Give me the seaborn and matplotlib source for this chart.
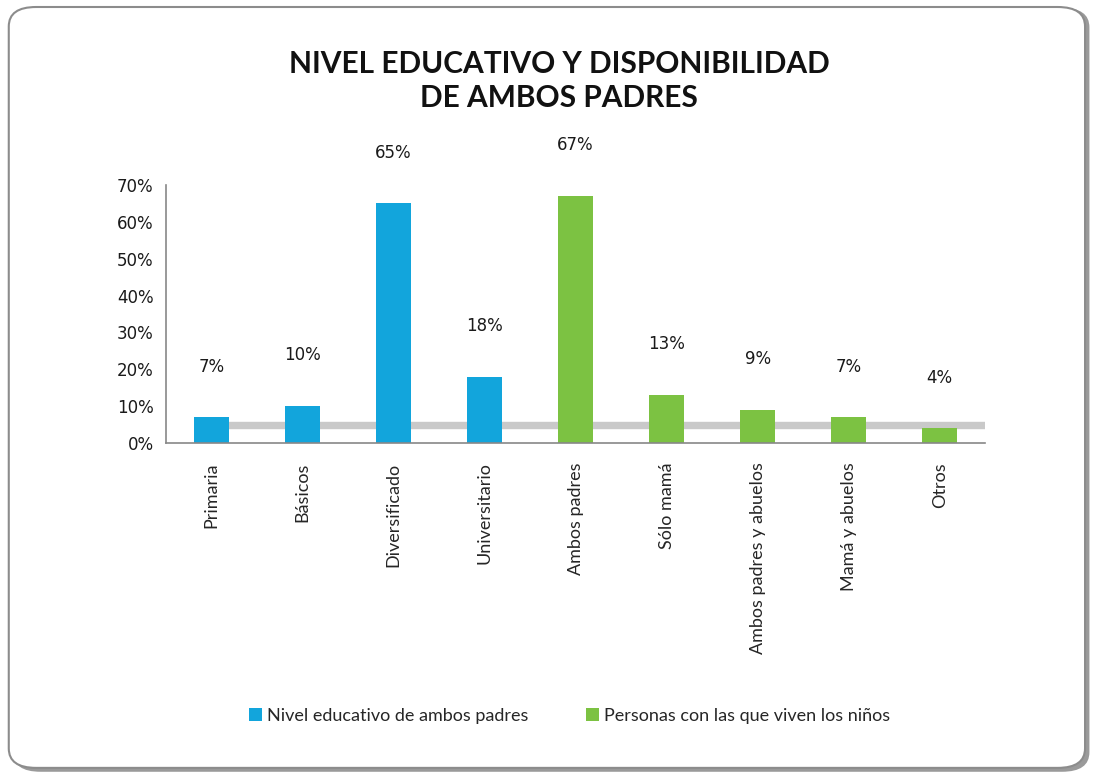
import seaborn as sns
import pandas as pd
import matplotlib.pyplot as plt
from matplotlib.patches import FancyBboxPatch, Patch
from matplotlib.ticker import FuncFormatter, FixedLocator

# Datos
categorias = ['Primaria', 'Básicos', 'Diversificado', 'Universitario',
              'Ambos padres', 'Sólo mamá', 'Ambos padres y abuelos',
              'Mamá y abuelos', 'Otros']
valores = [0.07, 0.10, 0.65, 0.18, 0.67, 0.13, 0.09, 0.07, 0.04]
grupos = ['Nivel educativo de ambos padres'] * 4 + ['Personas con las que viven los niños'] * 5
colores = {'Nivel educativo de ambos padres': '#12A5DC',
           'Personas con las que viven los niños': '#7CC242'}

df = pd.DataFrame({'categoria': categorias, 'valor': valores, 'grupo': grupos})

sns.set_style('white')
fig = plt.figure(figsize=(10.96, 7.78), dpi=100)

# marco redondeado con sombra
fig.patches.append(FancyBboxPatch((0.012, 0.008), 0.982, 0.982, boxstyle='round,pad=0,rounding_size=0.025',
                                  transform=fig.transFigure, facecolor='#9a9a9a', edgecolor='none', zorder=-2))
fig.patches.append(FancyBboxPatch((0.008, 0.013), 0.982, 0.978, boxstyle='round,pad=0,rounding_size=0.025',
                                  transform=fig.transFigure, facecolor='white', edgecolor='#8c8c8c',
                                  linewidth=1.5, zorder=-1))

ax = fig.add_axes([0.1515, 0.4306, 0.7475, 0.3316])
ax.set_facecolor('none')

# "piso" gris del grafico 3D
ax.axhspan(0.04, 0.058, xmin=0.035, xmax=1.0, color='#c9c9c9', zorder=0)

sns.barplot(data=df, x='categoria', y='valor', hue='grupo', palette=colores, saturation=1,
            dodge=False, width=0.38, linewidth=0, zorder=2, ax=ax)
for cont in ax.containers:
    ax.bar_label(cont, labels=[f'{v:.0%}' if v > 0 else '' for v in cont.datavalues],
                 padding=30, fontsize=12, family='DejaVu Sans', color='#1a1a1a')
if ax.get_legend() is not None:
    ax.get_legend().remove()

ax.set_xlim(-0.5, len(categorias) - 0.5)
ax.set_ylim(0, 0.70)
ax.yaxis.set_major_locator(FixedLocator([i / 10 for i in range(8)]))
ax.yaxis.set_major_formatter(FuncFormatter(lambda v, p: f'{v * 100:.0f}%'))
ax.tick_params(axis='y', labelsize=12, colors='#1a1a1a', length=5, color='#888888', width=1.2, pad=4)
ax.set_xticks(range(len(categorias)))
ax.set_xticklabels(categorias, rotation=90, fontsize=13, family='Lato', va='top')
ax.tick_params(axis='x', length=0, pad=14)
ax.set_xticks([i - 0.5 for i in range(len(categorias) + 1)], minor=True)
ax.tick_params(axis='x', which='minor', length=7, color='#888888', width=1.2)
ax.set_xlabel('')
ax.set_ylabel('')
for s in ['top', 'right']:
    ax.spines[s].set_visible(False)
for s in ['left', 'bottom']:
    ax.spines[s].set_color('#888888')
    ax.spines[s].set_linewidth(1.2)

fig.text(0.51, 0.896, 'NIVEL EDUCATIVO Y DISPONIBILIDAD\nDE AMBOS PADRES', ha='center', va='center',
         fontsize=21.5, fontweight='bold', family='Lato', linespacing=1.25, color='#111111')

handles = [Patch(facecolor=colores[g], edgecolor='none') for g in colores]
fig.legend(handles, list(colores), loc='center', bbox_to_anchor=(0.52, 0.08), ncol=2, frameon=False,
           prop={'family': 'Lato', 'size': 13}, handlelength=0.7, handleheight=0.7,
           handletextpad=0.3, columnspacing=3.2)

fig.savefig('out.png', dpi=100)
